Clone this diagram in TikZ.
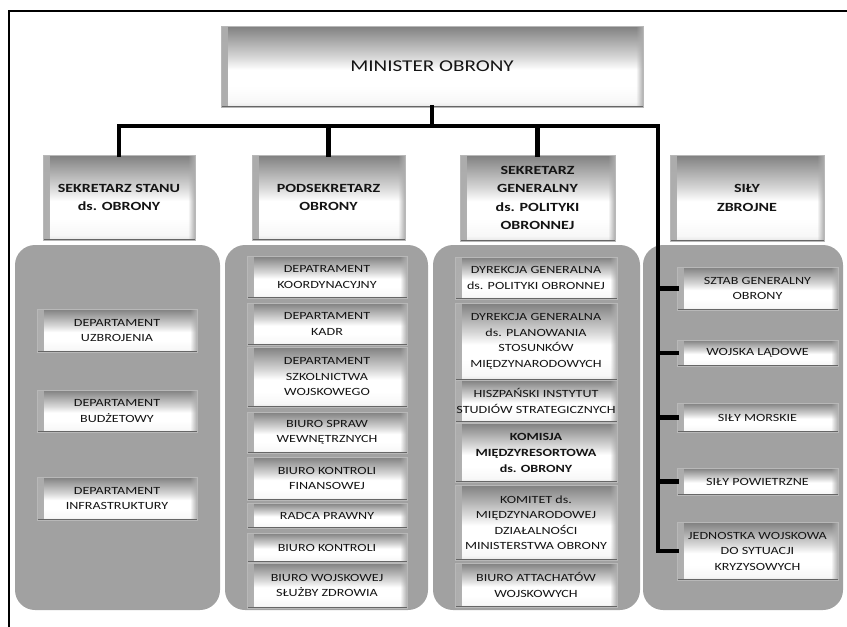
\documentclass[tikz,border=0pt]{standalone}
\usepackage{fontspec}
\setmainfont{Carlito}[FakeStretch=1.28]
\usetikzlibrary{fadings}

\definecolor{paneltone}{HTML}{A1A1A1}
\definecolor{ink}{HTML}{141414}

% grey top edge fading into a white face, light grey at the foot
\pgfdeclareverticalshading{bevelshade}{100bp}{%
  color(0bp)=(black!10); color(25bp)=(black!10); color(28bp)=(black!3);
  color(38bp)=(white); color(48bp)=(white); color(56bp)=(black!16);
  color(65bp)=(black!32); color(75bp)=(black!50); color(100bp)=(black!50)}

\tikzset{
  x=1pt, y=-1pt,
  bevelbox/.style={shade, shading=bevelshade, draw=black!28, line width=0.4pt,
    text=ink, align=center, inner xsep=0pt, inner ysep=1pt,
    path picture={
      \fill[black!32, path fading=east]
        (path picture bounding box.north west) rectangle
        ([xshift=7pt]path picture bounding box.south west);
      \fill[black!32, path fading=west]
        (path picture bounding box.north east) rectangle
        ([xshift=-7pt]path picture bounding box.south east);
      \draw[black!60, line width=1.2pt]
        (path picture bounding box.south west) --
        (path picture bounding box.south east);
    }},
  unit/.style={bevelbox, font=\fontsize{11}{15.5}\selectfont},
  head/.style={bevelbox, font=\bfseries\fontsize{12.5}{18.5}\selectfont},
  top/.style={bevelbox, font=\fontsize{16.5}{20}\selectfont},
  panel/.style={fill=paneltone, rounded corners=20pt, draw=none},
  conn/.style={draw=black, line width=4.6pt, line join=miter, line cap=rect},
  frame/.style={draw=black, line width=1.3pt},
}

\begin{document}
\begin{tikzpicture}
\useasboundingbox (0,0) rectangle (847,627);

% outer frame
\draw[frame] (9,627) -- (9,11) -- (847,11);

% grey group panels
\node[panel, minimum width=205pt, minimum height=365pt] (p1) at (117.5,427.5) {};
\node[panel, minimum width=203pt, minimum height=365pt] (p2) at (326.5,427.5) {};
\node[panel, minimum width=207pt, minimum height=365pt] (p3) at (536.5,427.5) {};
\node[panel, minimum width=200pt, minimum height=365pt] (p4) at (743,427.5) {};

% minister and the four heads
\node[top, minimum width=422pt, minimum height=81pt] (min) at (432,66.5) {MINISTER OBRONY};
\node[head, minimum width=152pt, minimum height=85pt] (h1) at (119,197.5) {SEKRETARZ STANU\\ds. OBRONY};
\node[head, minimum width=153pt, minimum height=85pt] (h2) at (328.5,197.5) {PODSEKRETARZ\\OBRONY};
\node[head, minimum width=155pt, minimum height=86pt] (h3) at (537.5,198) {SEKRETARZ\\GENERALNY\\ds. POLITYKI\\OBRONNEJ};
\node[head, minimum width=154pt, minimum height=86pt] (h4) at (747,198) {SIŁY\\ZBROJNE};

% units under the Secretary of State
\node[unit, minimum width=160pt, minimum height=43pt] (a1) at (117,330.5) {DEPARTAMENT\\UZBROJENIA};
\node[unit, minimum width=160pt, minimum height=42pt] (a2) at (117,411) {DEPARTAMENT\\BUDŻETOWY};
\node[unit, minimum width=160pt, minimum height=43pt] (a3) at (117,498.5) {DEPARTAMENT\\INFRASTRUKTURY};

% units under the Undersecretary
\node[unit, minimum width=160pt, minimum height=42pt] (b1) at (327,277) {DEPATRAMENT\\KOORDYNACYJNY};
\node[unit, minimum width=160pt, minimum height=42pt] (b2) at (327,324) {DEPARTAMENT\\KADR};
\node[unit, minimum width=160pt, minimum height=60pt] (b3) at (327,377) {DEPARTAMENT\\SZKOLNICTWA\\WOJSKOWEGO};
\node[unit, minimum width=160pt, minimum height=41pt] (b4) at (327,432.5) {BIURO SPRAW\\WEWNĘTRZNYCH};
\node[unit, minimum width=160pt, minimum height=43pt] (b5) at (327,478.5) {BIURO KONTROLI\\FINANSOWEJ};
\node[unit, minimum width=160pt, minimum height=25pt] (b6) at (327,515.5) {RADCA PRAWNY};
\node[unit, minimum width=160pt, minimum height=29pt] (b7) at (327,547.5) {BIURO KONTROLI};
\node[unit, minimum width=160pt, minimum height=45pt] (b8) at (327,585.5) {BIURO WOJSKOWEJ\\SŁUŻBY ZDROWIA};

% units under the Secretary General
\node[unit, minimum width=162pt, minimum height=42pt] (c1) at (536,278) {DYREKCJA GENERALNA\\ds. POLITYKI OBRONNEJ};
\node[unit, minimum width=162pt, minimum height=77pt] (c2) at (536,341.5) {DYREKCJA GENERALNA\\ds. PLANOWANIA\\STOSUNKÓW\\MIĘDZYNARODOWYCH};
\node[unit, minimum width=162pt, minimum height=42pt] (c3) at (536,401) {HISZPAŃSKI INSTYTUT\\STUDIÓW STRATEGICZNYCH};
\node[unit, font=\bfseries\fontsize{11}{16}\selectfont, minimum width=162pt, minimum height=59pt] (c4) at (536,452.5) {KOMISJA\\MIĘDZYRESORTOWA\\ds. OBRONY};
\node[unit, minimum width=162pt, minimum height=75pt] (c5) at (536,522.5) {KOMITET ds.\\MIĘDZYNARODOWEJ\\DZIAŁALNOŚCI\\MINISTERSTWA OBRONY};
\node[unit, minimum width=162pt, minimum height=44pt] (c6) at (536,585) {BIURO ATTACHATÓW\\WOJSKOWYCH};

% armed forces
\node[unit, minimum width=161pt, minimum height=43pt] (d1) at (757.5,288.5) {SZTAB GENERALNY\\OBRONY};
\node[unit, minimum width=161pt, minimum height=26pt] (d2) at (757.5,353) {WOJSKA LĄDOWE};
\node[unit, minimum width=161pt, minimum height=29pt] (d3) at (757.5,417.5) {SIŁY MORSKIE};
\node[unit, minimum width=161pt, minimum height=27pt] (d4) at (757.5,481.5) {SIŁY POWIETRZNE};
\node[unit, minimum width=161pt, minimum height=58pt] (d5) at (757.5,551) {JEDNOSTKA WOJSKOWA\\DO SYTUACJI\\KRYZYSOWYCH};

% connector bus
\coordinate (busL) at (119,126);
\coordinate (busR) at (658,126);
\draw[conn] (min.south) -- (min.south |- busL);
\draw[conn] (h1.north) |- (busR) -- (busR |- d5.west) -- (d5.west);
\draw[conn] (h2.north) -- (h2.north |- busL);
\draw[conn] (h3.north) -- (h3.north |- busL);
\draw[conn] (busR |- d1.west) -- (d1.west);
\draw[conn] (busR |- d2.west) -- (d2.west);
\draw[conn] (busR |- d3.west) -- (d3.west);
\draw[conn] (busR |- d4.west) -- (d4.west);
\end{tikzpicture}
\end{document}
